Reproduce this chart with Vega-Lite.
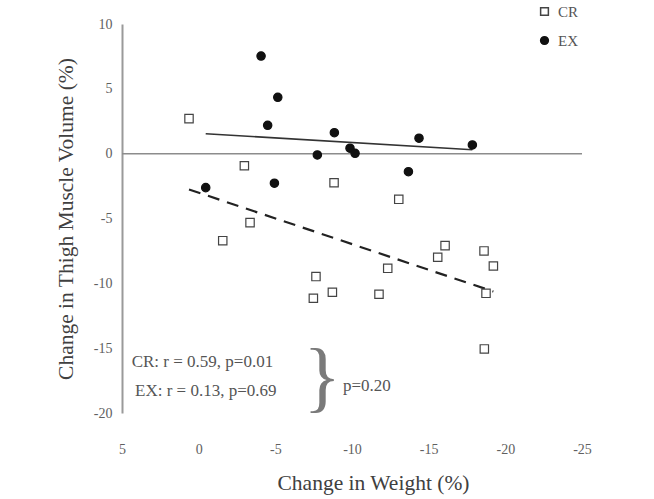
{
  "$schema": "https://vega.github.io/schema/vega-lite/v6.json",
  "width": 460,
  "height": 389,
  "autosize": "none",
  "padding": {"left": 122, "top": 24, "right": 72, "bottom": 86},
  "background": "white",
  "config": {
    "font": "Liberation Serif",
    "view": {"stroke": null},
    "axis": {"grid": false, "labelFlush": false}
  },
  "datasets": {
    "points": [
      {"group": "CR", "x": 0.63, "y": 2.70},
      {"group": "CR", "x": -2.98, "y": -0.93},
      {"group": "CR", "x": -8.83, "y": -2.24},
      {"group": "CR", "x": -13.05, "y": -3.52},
      {"group": "CR", "x": -3.35, "y": -5.32},
      {"group": "CR", "x": -1.57, "y": -6.71},
      {"group": "CR", "x": -7.65, "y": -9.48},
      {"group": "CR", "x": -8.72, "y": -10.69},
      {"group": "CR", "x": -7.48, "y": -11.15},
      {"group": "CR", "x": -16.07, "y": -7.09},
      {"group": "CR", "x": -15.59, "y": -7.99},
      {"group": "CR", "x": -18.61, "y": -7.50},
      {"group": "CR", "x": -19.22, "y": -8.66},
      {"group": "CR", "x": -12.33, "y": -8.84},
      {"group": "CR", "x": -11.76, "y": -10.84},
      {"group": "CR", "x": -18.74, "y": -10.77},
      {"group": "CR", "x": -18.63, "y": -15.06},
      {"group": "EX", "x": -4.07, "y": 7.53},
      {"group": "EX", "x": -5.16, "y": 4.35},
      {"group": "EX", "x": -4.50, "y": 2.19},
      {"group": "EX", "x": -8.85, "y": 1.62},
      {"group": "EX", "x": -7.74, "y": -0.10},
      {"group": "EX", "x": -4.94, "y": -2.28},
      {"group": "EX", "x": -0.46, "y": -2.62},
      {"group": "EX", "x": -9.87, "y": 0.42},
      {"group": "EX", "x": -10.20, "y": 0.03},
      {"group": "EX", "x": -14.37, "y": 1.19},
      {"group": "EX", "x": -17.85, "y": 0.67},
      {"group": "EX", "x": -13.68, "y": -1.39}
    ],
    "notes": [
      {"x": 4.37, "y": -16.04, "label": "CR: r = 0.59, p=0.01"},
      {"x": 4.15, "y": -18.30, "label": "EX: r = 0.13, p=0.69"},
      {"x": -9.41, "y": -17.89, "label": "p=0.20"}
    ],
    "brace": [
      {"x": -8.05, "y": -17.45, "label": "}"}
    ]
  },
  "layer": [
    {
      "data": {"values": [{}]},
      "mark": {"type": "rule", "color": "#8c8c8c", "strokeWidth": 1.5},
      "encoding": {
        "y": {"datum": 0, "type": "quantitative", "scale": {"domain": [-20, 10]},
          "axis": {
            "values": [-20, -15, -10, -5, 0, 5, 10],
            "labelExpr": "datum.value + ''",
            "title": "Change in Thigh Muscle Volume (%)",
            "domain": true, "domainColor": "#9a9a9a", "domainWidth": 2,
            "ticks": false, "labelPadding": 10,
            "labelFontSize": 14, "labelColor": "#606060",
            "titleFontSize": 21.5, "titleFontWeight": "normal", "titleColor": "#404040",
            "titlePadding": 16
          }
        }
      }
    },
    {
      "data": {"name": "points"},
      "transform": [{"filter": "datum.group === 'CR'"}, {"regression": "y", "on": "x"}],
      "mark": {"type": "line", "color": "#222", "strokeWidth": 2.2, "strokeDash": [12, 8]},
      "encoding": {
        "x": {"field": "x", "type": "quantitative"},
        "y": {"field": "y", "type": "quantitative"}
      }
    },
    {
      "data": {"name": "points"},
      "transform": [{"filter": "datum.group === 'EX'"}, {"regression": "y", "on": "x"}],
      "mark": {"type": "line", "color": "#333", "strokeWidth": 1.6},
      "encoding": {
        "x": {"field": "x", "type": "quantitative"},
        "y": {"field": "y", "type": "quantitative"}
      }
    },
    {
      "data": {"name": "points"},
      "mark": {"type": "point", "size": 70, "strokeWidth": 1.2, "opacity": 1},
      "encoding": {
        "x": {"field": "x", "type": "quantitative",
          "scale": {"domain": [-25, 5], "reverse": true, "nice": false},
          "axis": {
            "values": [-25, -20, -15, -10, -5, 0, 5],
            "labelExpr": "datum.value + ''",
            "title": "Change in Weight (%)",
            "domain": false, "ticks": false, "labelPadding": 29,
            "labelFontSize": 14, "labelColor": "#606060",
            "titleFontSize": 21.5, "titleFontWeight": "normal", "titleColor": "#404040",
            "titlePadding": 16, "titleX": 251
          }
        },
        "y": {"field": "y", "type": "quantitative"},
        "shape": {"field": "group", "type": "nominal",
          "scale": {"domain": ["CR", "EX"], "range": ["square", "circle"]},
          "legend": {
            "title": null, "orient": "none", "legendX": 415, "legendY": -20,
            "labelFontSize": 15, "labelColor": "#555", "rowPadding": 13,
            "symbolSize": 60, "padding": 0, "labelOffset": 6
          }
        },
        "fill": {"field": "group", "type": "nominal",
          "scale": {"domain": ["CR", "EX"], "range": ["white", "#111111"]}, "legend": {
            "title": null, "orient": "none", "legendX": 415, "legendY": -20,
            "labelFontSize": 15, "labelColor": "#555", "rowPadding": 13,
            "symbolSize": 60, "padding": 0, "labelOffset": 6
          }},
        "stroke": {"field": "group", "type": "nominal",
          "scale": {"domain": ["CR", "EX"], "range": ["#444444", "#111111"]}, "legend": {
            "title": null, "orient": "none", "legendX": 415, "legendY": -20,
            "labelFontSize": 15, "labelColor": "#555", "rowPadding": 13,
            "symbolSize": 60, "padding": 0, "labelOffset": 6
          }}
      }
    },
    {
      "data": {"name": "notes"},
      "mark": {"type": "text", "align": "left", "baseline": "middle", "fontSize": 17, "color": "#555"},
      "encoding": {
        "x": {"field": "x", "type": "quantitative"},
        "y": {"field": "y", "type": "quantitative"},
        "text": {"field": "label"}
      }
    },
    {
      "data": {"name": "brace"},
      "mark": {"type": "text", "align": "center", "baseline": "middle", "fontSize": 78, "color": "#7a7a7a", "dy": 0},
      "encoding": {
        "x": {"field": "x", "type": "quantitative"},
        "y": {"field": "y", "type": "quantitative"},
        "text": {"field": "label"}
      }
    }
  ]
}
